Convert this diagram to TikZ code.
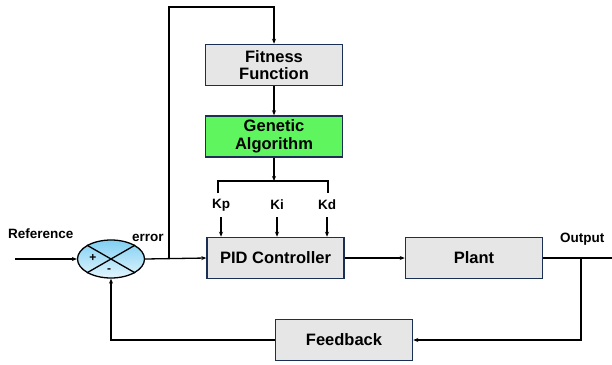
\documentclass[tikz,border=0pt]{standalone}
\usepackage{fontspec}
\setmainfont{Liberation Sans}
\usetikzlibrary{shapes.geometric,arrows.meta}
\definecolor{boxgray}{HTML}{E6E6E6}
\definecolor{boxedge}{HTML}{1B2F55}
\definecolor{gagreen}{HTML}{5FF55F}
\definecolor{sumtop}{HTML}{80CFF2}
\definecolor{sumbot}{HTML}{E2F5FD}
\begin{document}
\begin{tikzpicture}[x=1pt,y=-1pt,
  blockbox/.style={draw=boxedge,line width=1.5pt,fill=boxgray,minimum width=137pt,
    minimum height=41pt,inner sep=0pt,align=center,
    font=\fontsize{16.5}{17.5}\selectfont\bfseries},
  lbl/.style={font=\fontsize{13.5}{15}\selectfont\bfseries,inner sep=0pt},
  signs/.style={font=\fontsize{12}{13}\selectfont\bfseries,inner sep=0pt},
  wire/.style={line width=1.3pt,black},
  arr/.style={wire,-{Stealth[length=5pt,width=4pt]}},
  every node/.append style={text=black}]
\useasboundingbox (0,0) rectangle (612,364);

% blocks
\node[blockbox] (ff) at (274,65) {Fitness\\Function};
\node[blockbox,fill=gagreen] (ga) at (274,136.5) {Genetic\\Algorithm};
\node[blockbox] (pid) at (275.5,258) {PID Controller};
\node[blockbox] (plant) at (474,258) {Plant};
\node[blockbox] (fb) at (344,340) {Feedback};

% summing junction
\node[ellipse,draw=black,line width=1.3pt,top color=sumtop,bottom color=sumbot,
  minimum width=67pt,minimum height=38pt,inner sep=0pt] (s) at (111,259) {};
\draw[wire] (s.north west) -- (s.south east);
\draw[wire] (s.north east) -- (s.south west);
\node[signs] (plus) at (93,258) {+};
\node[signs] (minus) at (109,271) {-};

% labels
\node[lbl,anchor=west] (reflbl) at (8,234) {Reference};
\node[lbl,anchor=west] (errlbl) at (132,238) {error};
\node[lbl,anchor=west] (outlbl) at (560,239) {Output};
\node[lbl] (kp) at (221,205) {Kp};
\node[lbl] (ki) at (277,205) {Ki};
\node[lbl] (kd) at (327,205) {Kd};

% helper points
\coordinate (refin) at (15,259);
\coordinate (junc) at (169,259);
\coordinate (topleft) at (169,7);
\coordinate (bc) at (274,181);
\coordinate (bl) at (218,181);
\coordinate (br) at (328,181);
\coordinate (bld) at (218,193);
\coordinate (brd) at (328,193);
\coordinate (tap) at (581,258);
\coordinate (outend) at (612,258);

% signal path
\draw[arr] (refin) -- (s.west);
\draw[arr] (s.east) -- (pid.west);
\draw[arr] (junc) -- (topleft) -| (ff.north);
\draw[arr] (ff.south) -- (ga.north);
\draw[arr] (ga.south) -- (bc);
\draw[wire] (bld) -- (bl) -- (br) -- (brd);
\draw[arr] (kp.south |- 0,217) -- (kp.south |- pid.north);
\draw[arr] (ki.south |- 0,217) -- (ki.south |- pid.north);
\draw[arr] (kd.south |- 0,217) -- (kd.south |- pid.north);
\draw[arr] (pid.east) -- (plant.west);
\draw[wire] (plant.east) -- (outend);
\draw[arr] (tap) |- (fb.east);
\draw[arr] (fb.west) -| (s.south);
\end{tikzpicture}
\end{document}
